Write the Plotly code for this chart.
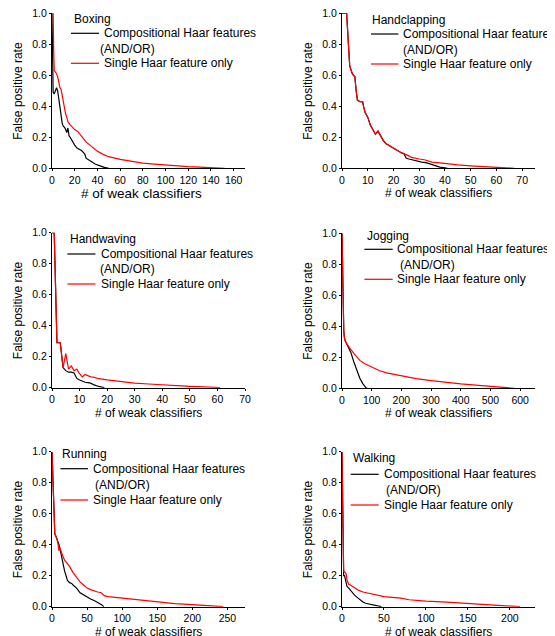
import plotly.graph_objects as go

# ---------------- data ----------------
panel_names = ["Boxing", "Handclapping", "Handwaving", "Jogging", "Running", "Walking"]
comp_label = "Compositional Haar features"
single_label = "Single Haar feature only"
x_title = "# of weak classifiers"
y_title = "False positive rate"

boxing_comp_x = [0, 0.5, 1, 2, 3, 4, 5, 6, 7, 8, 9, 10, 11, 12, 13, 14, 15, 16, 18, 20, 22, 24, 26, 28, 29, 30, 32, 34, 36, 38, 40, 42, 44, 46, 48, 50]
boxing_comp_y = [1.0, 0.62, 0.49, 0.48, 0.5, 0.52, 0.5, 0.44, 0.38, 0.32, 0.29, 0.27, 0.265, 0.25, 0.23, 0.26, 0.21, 0.2, 0.17, 0.15, 0.13, 0.125, 0.115, 0.1, 0.09, 0.065, 0.055, 0.045, 0.035, 0.028, 0.022, 0.015, 0.01, 0.006, 0.003, 0.0]
boxing_single_x = [0, 1, 1.5, 2, 3, 4, 5, 6, 7, 8, 9, 10, 11, 12, 13, 14, 16, 18, 20, 23, 26, 30, 35, 40, 45, 50, 60, 70, 80, 90, 100, 110, 120, 130, 140, 152]
boxing_single_y = [1.0, 1.0, 0.75, 0.63, 0.62, 0.61, 0.59, 0.55, 0.52, 0.51, 0.47, 0.44, 0.38, 0.35, 0.33, 0.3, 0.28, 0.265, 0.25, 0.235, 0.21, 0.17, 0.14, 0.11, 0.09, 0.075, 0.058, 0.045, 0.033, 0.027, 0.021, 0.016, 0.011, 0.008, 0.005, 0.0]

handclap_comp_x = [0, 1, 1.8, 2.5, 3, 4, 5, 5.5, 6, 7, 8, 8.5, 9, 10, 11, 12, 13, 14, 15, 16, 17, 18, 19, 20, 21, 22, 23, 24, 25, 26, 28, 30, 31, 33, 35, 36, 37, 38, 40, 41]
handclap_comp_y = [1.0, 1.0, 1.0, 0.8, 0.66, 0.61, 0.59, 0.5, 0.44, 0.43, 0.43, 0.39, 0.36, 0.33, 0.28, 0.25, 0.22, 0.24, 0.21, 0.18, 0.16, 0.15, 0.135, 0.13, 0.12, 0.105, 0.1, 0.095, 0.065, 0.06, 0.05, 0.045, 0.04, 0.035, 0.025, 0.02, 0.012, 0.008, 0.003, 0.0]
handclap_single_x = [0, 1, 1.8, 2.5, 3, 4, 5, 5.5, 6, 7, 8, 8.5, 9, 10, 11, 12, 13, 14, 15, 16, 17, 18, 19, 20, 21, 22, 23, 24, 25, 26, 27, 28, 30, 32, 34, 35, 38, 40, 45, 50, 55, 60, 65, 67]
handclap_single_y = [1.0, 1.0, 1.0, 0.8, 0.66, 0.61, 0.59, 0.5, 0.44, 0.43, 0.43, 0.39, 0.36, 0.33, 0.28, 0.25, 0.22, 0.24, 0.21, 0.18, 0.16, 0.15, 0.135, 0.13, 0.12, 0.105, 0.1, 0.095, 0.09, 0.08, 0.07, 0.068, 0.06, 0.055, 0.048, 0.04, 0.035, 0.03, 0.022, 0.016, 0.011, 0.007, 0.003, 0.0]

handwave_comp_x = [0, 0.8, 1.8, 3, 4, 5, 6, 7, 8, 9, 10, 11, 12, 13, 14, 15, 16, 17, 18, 19]
handwave_comp_y = [1.0, 1.0, 0.29, 0.29, 0.13, 0.11, 0.1, 0.1, 0.095, 0.06, 0.05, 0.04, 0.035, 0.033, 0.03, 0.02, 0.012, 0.008, 0.004, 0.0]
handwave_single_x = [0, 0.8, 1.8, 3, 4, 5, 6, 7, 8, 9, 10, 11, 12, 13, 14, 15, 17, 20, 25, 30, 35, 40, 45, 50, 55, 61]
handwave_single_y = [1.0, 1.0, 0.29, 0.29, 0.13, 0.22, 0.12, 0.14, 0.11, 0.12, 0.09, 0.07, 0.085, 0.075, 0.07, 0.068, 0.058, 0.05, 0.038, 0.03, 0.024, 0.018, 0.013, 0.009, 0.005, 0.0]

jogging_comp_x = [0, 2, 4, 6, 8, 10, 15, 20, 30, 40, 50, 60, 70, 75, 80, 85]
jogging_comp_y = [1.0, 0.65, 0.45, 0.37, 0.33, 0.31, 0.29, 0.27, 0.23, 0.17, 0.115, 0.065, 0.03, 0.015, 0.005, 0.0]
jogging_single_x = [0, 2, 4, 6, 8, 10, 15, 20, 30, 40, 50, 60, 75, 100, 125, 150, 175, 200, 250, 300, 350, 400, 450, 500, 550, 580]
jogging_single_y = [1.0, 0.65, 0.45, 0.37, 0.33, 0.31, 0.29, 0.275, 0.25, 0.225, 0.2, 0.18, 0.16, 0.135, 0.115, 0.1, 0.09, 0.078, 0.062, 0.05, 0.038, 0.028, 0.02, 0.013, 0.006, 0.0]

running_comp_x = [0, 1, 2, 3, 4, 6, 8, 10, 12, 14, 16, 18, 20, 22, 25, 28, 30, 35, 40, 45, 50, 55, 60, 65, 70, 74]
running_comp_y = [1.0, 0.85, 0.65, 0.55, 0.47, 0.45, 0.43, 0.4, 0.36, 0.31, 0.27, 0.23, 0.2, 0.17, 0.155, 0.15, 0.14, 0.12, 0.09, 0.075, 0.06, 0.05, 0.04, 0.03, 0.015, 0.0]
running_single_x = [0, 1, 2, 3, 4, 6, 8, 10, 11, 12, 14, 16, 18, 20, 25, 30, 35, 40, 45, 50, 55, 60, 65, 70, 75, 80, 90, 100, 125, 150, 175, 200, 225, 244]
running_single_y = [1.0, 0.85, 0.65, 0.55, 0.47, 0.45, 0.42, 0.36, 0.38, 0.37, 0.34, 0.32, 0.3, 0.29, 0.26, 0.22, 0.19, 0.16, 0.14, 0.12, 0.11, 0.1, 0.095, 0.09, 0.07, 0.065, 0.06, 0.053, 0.04, 0.03, 0.02, 0.013, 0.006, 0.0]

walking_comp_x = [0, 1, 2, 3, 4, 5, 6, 8, 10, 12, 15, 18, 20, 22, 25, 28, 30, 35, 40, 44, 47]
walking_comp_y = [1.0, 0.5, 0.2, 0.2, 0.18, 0.15, 0.13, 0.12, 0.105, 0.09, 0.075, 0.06, 0.05, 0.04, 0.03, 0.022, 0.02, 0.015, 0.01, 0.004, 0.0]
walking_single_x = [0, 1, 2, 4, 5, 6, 7, 8, 10, 15, 20, 25, 30, 35, 40, 45, 50, 60, 70, 80, 90, 100, 125, 150, 175, 200, 212]
walking_single_y = [1.0, 0.5, 0.23, 0.22, 0.21, 0.17, 0.15, 0.145, 0.14, 0.12, 0.105, 0.095, 0.088, 0.082, 0.076, 0.07, 0.065, 0.06, 0.055, 0.045, 0.04, 0.036, 0.03, 0.022, 0.014, 0.006, 0.0]

x_ranges = [170, 75, 70, 650, 275, 230]
x_dticks = [20, 10, 10, 100, 50, 50]

comp_data = [(boxing_comp_x, boxing_comp_y), (handclap_comp_x, handclap_comp_y),
             (handwave_comp_x, handwave_comp_y), (jogging_comp_x, jogging_comp_y),
             (running_comp_x, running_comp_y), (walking_comp_x, walking_comp_y)]
single_data = [(boxing_single_x, boxing_single_y), (handclap_single_x, handclap_single_y),
               (handwave_single_x, handwave_single_y), (jogging_single_x, jogging_single_y),
               (running_single_x, running_single_y), (walking_single_x, walking_single_y)]

# ---------------- layout geometry (pixels) ----------------
# the page body has an 8px default margin, so the figure is offset by 8px
OFF = 8
W, H = 555 - OFF, 636 - OFF
PW, PH = 193, 155
lefts = [52 - OFF, 342 - OFF, 52 - OFF, 342 - OFF, 52 - OFF, 342 - OFF]
tops = [13.3 - OFF, 13.3 - OFF, 232.7 - OFF, 233.3 - OFF, 451.7 - OFF, 451.7 - OFF]
# legend offsets: title_x, title_y, line_x0, line_x1, line1_y, text_x, and_x, and_y, red_y
leg = [
    (19.7, 6.0, 19, 47, 20.0, 49.7, 46, 36.0, 50.0),
    (28.4, 6.7, 29, 56.4, 20.7, 59, 59, 36.7, 50.7),
    (16.0, 6.6, 15.4, 43.4, 21.3, 46.7, 46, 36.3, 51.3),
    (22.7, 2.4, 22.4, 50.7, 16.0, 53.4, 56, 31.7, 46.0),
    (8.4, 2.6, 8.4, 36.0, 17.0, 39.4, 41, 33.3, 48.3),
    (9.3, 6.6, 8.7, 36.7, 22.6, 40.0, 42, 38.6, 53.3),
]
xtitle_sizes = [13.5, 12, 12, 12, 12, 12]
xtitle_shift = [-7, 0, 0, 0, 0, 0]

FONT = "Liberation Sans, Arial, sans-serif"
fig = go.Figure()
layout = dict(width=W, height=H, margin=dict(l=0, r=0, t=0, b=0, pad=0, autoexpand=False),
              paper_bgcolor="white", plot_bgcolor="white", showlegend=False,
              font=dict(family=FONT, color="black", size=12))
annotations = []
shapes = []

for i in range(6):
    n = "" if i == 0 else str(i + 1)
    xa, ya = "xaxis" + n, "yaxis" + n
    xr, yr = "x" + n, "y" + n
    x0 = lefts[i] / W
    x1 = (lefts[i] + PW) / W
    y1 = 1 - tops[i] / H
    y0 = 1 - (tops[i] + PH) / H
    layout[xa] = dict(domain=[x0, x1], range=[0, x_ranges[i]], dtick=x_dticks[i], tick0=0,
                      showline=True, linecolor="black", linewidth=1, showgrid=False, zeroline=False,
                      ticks="outside", ticklen=2, tickcolor="black", anchor=yr, automargin=False,
                      ticklabeloverflow="allow",
                      tickfont=dict(size=10.5, family=FONT, color="black"))
    layout[ya] = dict(domain=[y0, y1], range=[0, 1], dtick=0.2, tickformat=".1f",
                      showline=True, linecolor="black", linewidth=1, showgrid=False, zeroline=False,
                      ticks="outside", ticklen=2, tickcolor="black", anchor=xr, automargin=False,
                      ticklabeloverflow="allow",
                      tickfont=dict(size=10.5, family=FONT, color="black"))
    cx, cy = comp_data[i]
    sx, sy = single_data[i]
    fig.add_trace(go.Scatter(x=cx, y=cy, mode="lines", line=dict(color="black", width=1.2),
                             xaxis=xr, yaxis=yr, name=comp_label, cliponaxis=False))
    fig.add_trace(go.Scatter(x=sx, y=sy, mode="lines", line=dict(color="#ff0000", width=1.2),
                             xaxis=xr, yaxis=yr, name=single_label, cliponaxis=False))

    dx = xr + " domain"
    dy = yr + " domain"
    fx = lambda p: p / PW
    fy = lambda p: 1 - p / PH
    tx, ty, lx0, lx1, l1y, txt_x, and_x, and_y, red_y = leg[i]
    annotations.append(dict(text=panel_names[i], xref=dx, yref=dy, x=fx(tx), y=fy(ty),
                            xanchor="left", yanchor="middle", showarrow=False,
                            font=dict(size=12, family=FONT, color="black")))
    annotations.append(dict(text=comp_label, xref=dx, yref=dy, x=fx(txt_x), y=fy(l1y),
                            xanchor="left", yanchor="middle", showarrow=False,
                            font=dict(size=12, family=FONT, color="black")))
    annotations.append(dict(text="(AND/OR)", xref=dx, yref=dy, x=fx(and_x), y=fy(and_y),
                            xanchor="left", yanchor="middle", showarrow=False,
                            font=dict(size=12, family=FONT, color="black")))
    annotations.append(dict(text=single_label, xref=dx, yref=dy, x=fx(txt_x), y=fy(red_y),
                            xanchor="left", yanchor="middle", showarrow=False,
                            font=dict(size=12, family=FONT, color="black")))
    shapes.append(dict(type="line", xref=dx, yref=dy, x0=fx(lx0), x1=fx(lx1), y0=fy(l1y), y1=fy(l1y),
                       line=dict(color="black", width=1.2)))
    shapes.append(dict(type="line", xref=dx, yref=dy, x0=fx(lx0), x1=fx(lx1), y0=fy(red_y), y1=fy(red_y),
                       line=dict(color="#ff0000", width=1.2)))
    # axis titles
    annotations.append(dict(text=x_title, xref=dx, yref=dy, x=0.5, xshift=xtitle_shift[i], y=0, yshift=-25,
                            xanchor="center", yanchor="middle", showarrow=False,
                            font=dict(size=xtitle_sizes[i], family=FONT, color="black")))
    annotations.append(dict(text=y_title, xref=dx, yref=dy, x=0, xshift=-34, y=0.5,
                            xanchor="center", yanchor="middle", showarrow=False, textangle=-90,
                            font=dict(size=12, family=FONT, color="black")))

layout["annotations"] = annotations
layout["shapes"] = shapes
fig.update_layout(**layout)
fig.write_html("out.html")
